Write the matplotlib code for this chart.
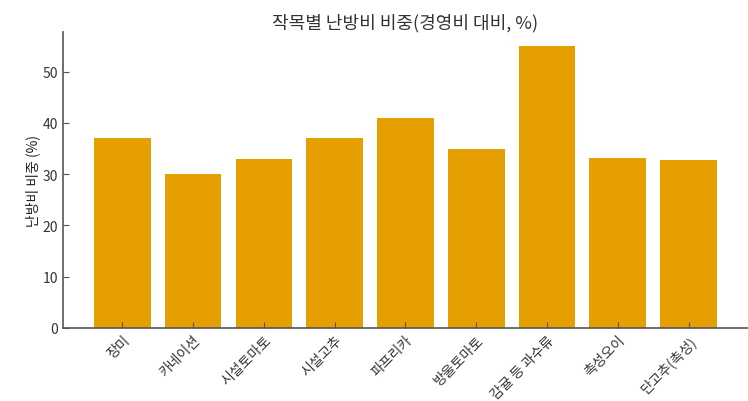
import matplotlib
matplotlib.use("Agg")
import matplotlib.pyplot as plt

crops = ["장미", "카네이션", "시설토마토", "시설고추", "파프리카",
         "방울토마토", "감귤 등 과수류", "촉성오이", "단고추(촉성)"]
heating_share = [37, 30, 33, 37, 41, 35, 55, 33.1, 32.7]

plt.rcParams["font.family"] = ["Noto Sans CJK KR", "DejaVu Sans"]
plt.rcParams["font.weight"] = "light"

fig = plt.figure(figsize=(7.48, 4.02), dpi=100)
ax = fig.add_axes([0.0842, 0.182, 0.9158, 0.736])

x = range(len(crops))
ax.bar(x, heating_share, width=0.8, color="#E69F00")

ax.set_xticks(list(x))
ax.set_xticklabels(crops, rotation=45, ha="right", rotation_mode="anchor")
ax.set_ylim(0, 57.75)
ax.set_xlim(-0.84, 8.84)
ax.set_yticks([0, 10, 20, 30, 40, 50])

for side in ["top", "right"]:
    ax.spines[side].set_visible(False)
for side in ["left", "bottom"]:
    ax.spines[side].set_color("#555555")
    ax.spines[side].set_linewidth(1.2)

ax.tick_params(direction="in", colors="#555555", labelcolor="#333333",
               labelsize=10, length=4)
ax.set_ylabel("난방비 비중 (%)", fontsize=10, color="#222222", labelpad=2)
ax.set_title("작목별 난방비 비중(경영비 대비, %)", fontsize=13, color="#333333", pad=3)

fig.savefig("out.png", dpi=100)
